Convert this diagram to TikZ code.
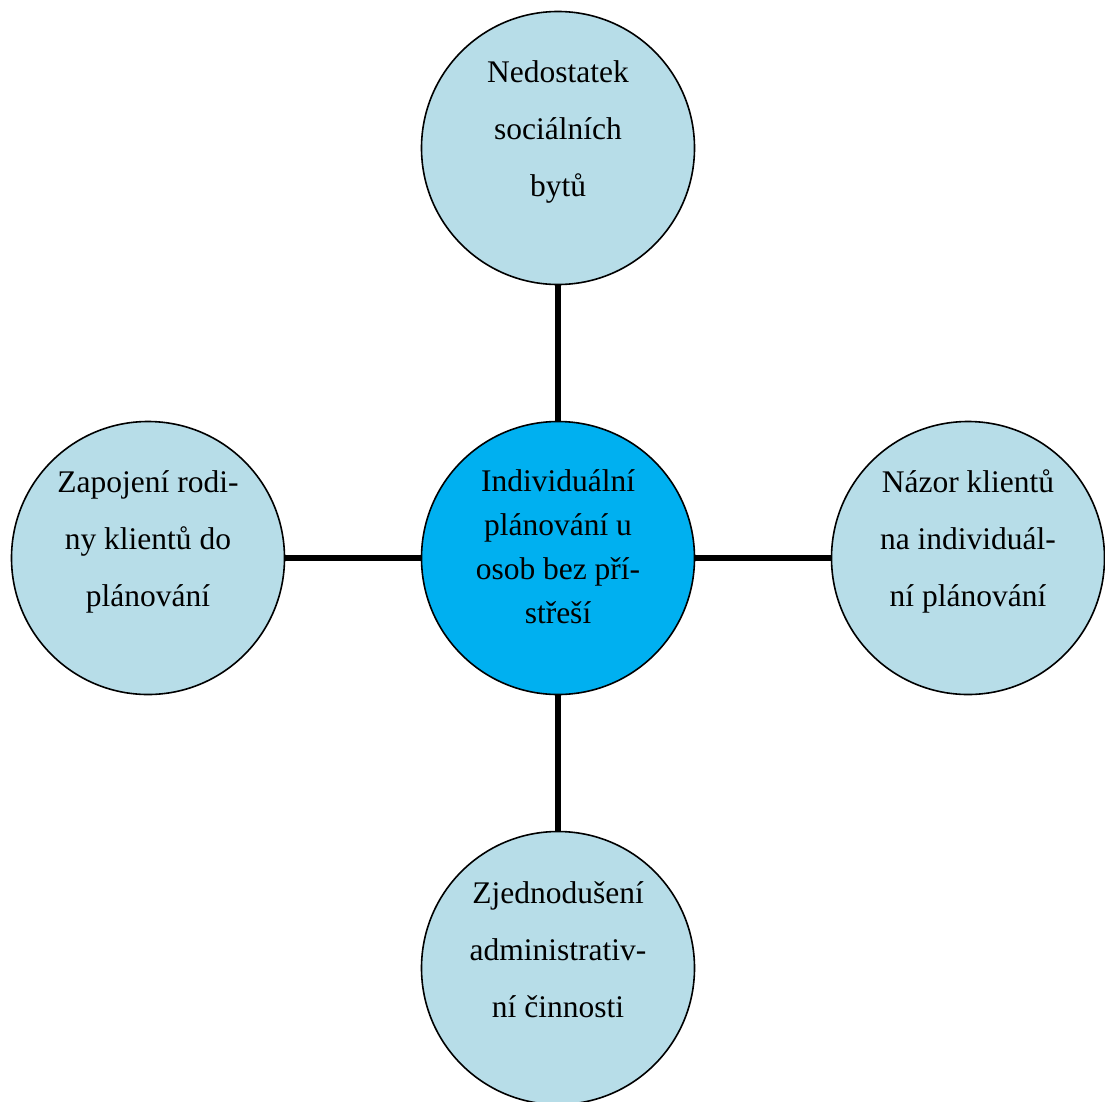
\documentclass[tikz,border=0pt]{standalone}
\usepackage{fontspec}
\setmainfont{Liberation Serif}
\definecolor{lightb}{RGB}{183,221,232}
\definecolor{mainb}{RGB}{0,176,240}
\begin{document}
\begin{tikzpicture}[x=1pt,y=-1pt,
  bubble/.style={circle,draw=black,line width=1.6pt,fill=lightb,minimum size=273pt,inner sep=0pt},
  hub/.style={bubble,fill=mainb},
  txt/.style={align=center,anchor=base,inner sep=0pt,font=\fontsize{31.5}{57}\selectfont},
  hubtxt/.style={txt,font=\fontsize{31.5}{43.7}\selectfont},
  link/.style={line width=5.5pt,black}]
\clip (0,0) rectangle (1105,1101);
\fill[white] (0,0) rectangle (1105,1101);
\node[hub] (c) at (558,558) {};
\node[bubble] (t) at (558,148) {};
\node[bubble] (l) at (148,558) {};
\node[bubble] (r) at (968,558) {};
\node[bubble] (b) at (558,968) {};
\draw[link] (t) -- (c);
\draw[link] (l) -- (c);
\draw[link] (r) -- (c);
\draw[link] (b) -- (c);
\node[hubtxt] (ct) at (558,623) {Individuální\\plánování u\\osob bez pří-\\střeší};
\node[txt] (tt) at (558,196) {Nedostatek\\sociálních\\bytů};
\node[txt] (lt) at (148,606) {Zapojení rodi-\\ny klientů do\\plánování};
\node[txt] (rt) at (968,606) {Názor klientů\\na individuál-\\ní plánování};
\node[txt] (bt) at (558,1017) {Zjednodušení\\administrativ-\\ní činnosti};
\end{tikzpicture}
\end{document}
